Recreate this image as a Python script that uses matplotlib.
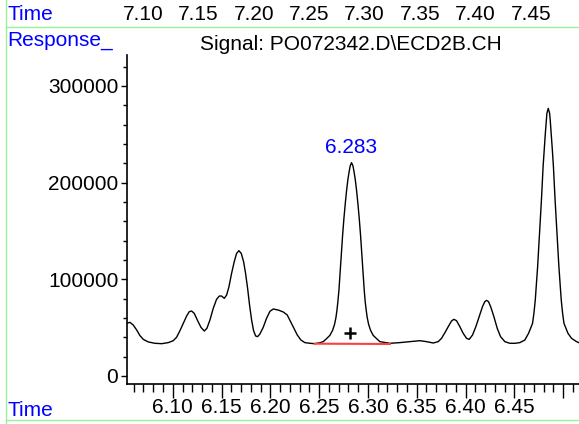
import matplotlib
matplotlib.use('Agg')
import matplotlib.pyplot as plt
from matplotlib.lines import Line2D
from matplotlib.ticker import FixedLocator, MultipleLocator, NullFormatter

plt.rcParams['font.family'] = ['Liberation Sans', 'DejaVu Sans']

# ---- signal (time in min, response) ----
time = [
    # 6.05 - 6.25 group
    6.0527, 6.0561, 6.0595, 6.0630, 6.0664, 6.0698, 6.0749, 6.0817, 6.0886,
    6.0954, 6.1005, 6.1039, 6.1074, 6.1108, 6.1142, 6.1169, 6.1193, 6.1220,
    6.1255, 6.1289, 6.1323, 6.1350, 6.1381, 6.1415, 6.1449, 6.1477, 6.1500,
    6.1528, 6.1552, 6.1576, 6.1603, 6.1630, 6.1654, 6.1678, 6.1702, 6.1726,
    6.1746, 6.1767, 6.1787, 6.1808, 6.1828, 6.1849, 6.1869, 6.1893, 6.1927,
    6.1961, 6.1996, 6.2030, 6.2081, 6.2132, 6.2173, 6.2207, 6.2242, 6.2276,
    6.2313, 6.2354, 6.2406, 6.2457,
    # peak 6.283
    6.2508, 6.2542, 6.2576, 6.2610, 6.2638, 6.2658, 6.2672, 6.2682, 6.2692,
    6.2703, 6.2713, 6.2727, 6.2740, 6.2754, 6.2768, 6.2781, 6.2795, 6.2809,
    6.2819, 6.2832, 6.2846, 6.2856, 6.2870, 6.2884, 6.2897, 6.2911, 6.2925,
    6.2938, 6.2952, 6.2962, 6.2972, 6.2983, 6.2993, 6.3007, 6.3027, 6.3054,
    6.3089, 6.3123, 6.3191,
    # 6.32 - 6.46
    6.3225, 6.3327, 6.3430, 6.3532, 6.3601, 6.3669, 6.3720, 6.3754, 6.3789,
    6.3823, 6.3857, 6.3881, 6.3908, 6.3942, 6.3976, 6.4011, 6.4038, 6.4072,
    6.4106, 6.4140, 6.4174, 6.4198, 6.4215, 6.4236, 6.4260, 6.4291, 6.4325,
    6.4359, 6.4403, 6.4454, 6.4506, 6.4557, 6.4608,
    # peak 6.485
    6.4646, 6.4687, 6.4701, 6.4715, 6.4739, 6.4759, 6.4778, 6.4795, 6.4806,
    6.4818, 6.4828, 6.4834, 6.4848, 6.4862, 6.4868, 6.4878, 6.4890, 6.4901,
    6.4918, 6.4937, 6.4957, 6.4981, 6.4995, 6.5009, 6.5050, 6.5087, 6.5138,
    6.5163]
response = [
    54400, 55500, 52700, 47600, 41700, 37900, 35200, 33800, 33400,
    34500, 36500, 40000, 46900, 54400, 62000, 66500, 67200, 64800,
    57200, 50300, 46500, 49300, 57900, 70000, 79300, 82700, 82700,
    80300, 83700, 92400, 106200, 118200, 126800, 129600, 126800, 118200,
    106200, 90600, 73400, 57900, 46900, 41400, 40700, 43400, 50300,
    59600, 66900, 69300, 68200, 66200, 63100, 56200, 49300, 42400,
    37200, 34500, 33800, 33400,
    34400, 35500, 38600, 42000, 47200, 53400, 60300, 67500, 76800,
    88900, 103400, 125100, 144800, 163000, 178500, 191600, 203400, 212300,
    217500, 220600, 217500, 212300, 203400, 191600, 178500, 163000, 144800,
    125100, 103400, 88900, 76800, 67500, 60300, 53400, 47200, 42000,
    38600, 35500, 34400,
    33800, 34500, 35500, 36500, 35500, 34100, 35500, 38900, 44800,
    51000, 56900, 58600, 57200, 51000, 44100, 38900, 37900, 42400,
    51000, 61300, 71700, 76900, 78200, 76900, 71000, 61300, 49300,
    40700, 35500, 33800, 33800, 34500, 37200,
    44100, 54400, 64800, 78600, 113000, 147500, 182000, 216400, 233700,
    250900, 264700, 271600, 276800, 271600, 264700, 250900, 233700, 216400,
    182000, 147500, 113000, 78600, 64800, 54400, 44100, 38900, 35500,
    34400]

# integrated peak
peak_rt = 6.283
peak_top = 220600
baseline_t = [6.2455, 6.3225]
baseline_v = [33400, 33100]
cross_t, cross_v = 6.282, 44150

x_major = [6.10, 6.15, 6.20, 6.25, 6.30, 6.35, 6.40, 6.45, 6.50]
x_labels = ['6.10', '6.15', '6.20', '6.25', '6.30', '6.35', '6.40', '6.45', '']
y_major = [0, 100000, 200000, 300000]
top_labels = ['7.10', '7.15', '7.20', '7.25', '7.30', '7.35', '7.40', '7.45']

W, H = 579, 424
fs = 15
fig = plt.figure(figsize=(W / 100, H / 100), dpi=100)
ax = fig.add_axes([126.7 / W, 1 - 384 / H, 1 - 126.7 / W, (384 - 55) / H])

ax.plot(time, response, color='black', lw=1.0)
ax.plot(baseline_t, baseline_v, color='#ff4040', lw=1.5)
ax.plot(cross_t, cross_v, marker='+', color='black', ms=9, mew=1.8)
ax.text(peak_rt, peak_top + 6000, f'{peak_rt:.3f}', color='#0000ff',
        fontsize=fs, ha='center', va='bottom')

ax.set_xlim(6.0528, 6.5163)
ax.set_ylim(-8300, 332000)

for s in ['top', 'right']:
    ax.spines[s].set_visible(False)
ax.spines['left'].set_linewidth(1.2)
ax.spines['bottom'].set_linewidth(1.2)

ax.xaxis.set_major_locator(FixedLocator(x_major))
ax.set_xticklabels(x_labels)
ax.xaxis.set_minor_locator(MultipleLocator(0.01))
ax.yaxis.set_major_locator(FixedLocator(y_major))
ax.yaxis.set_minor_locator(MultipleLocator(20000))
ax.yaxis.set_minor_formatter(NullFormatter())
ax.tick_params(axis='x', which='major', length=10, width=1, pad=0, labelsize=fs)
ax.tick_params(axis='x', which='minor', length=6, width=1)
ax.tick_params(axis='y', which='major', length=4, width=1, pad=2, labelsize=fs)
ax.tick_params(axis='y', which='minor', length=3, width=1)

# header / footer texts
blue = '#0000ff'
fig.text(7 / W, 1 - 15 / H, 'Time', color=blue, fontsize=fs, va='center')
fig.text(7 / W, 1 - 40 / H, 'Response_', color=blue, fontsize=fs, va='center')
fig.text(7 / W, 1 - 410 / H, 'Time', color=blue, fontsize=fs, va='center')
fig.text(351 / W, 1 - 44 / H, 'Signal: PO072342.D\\ECD2B.CH', fontsize=fs,
         ha='center', va='center')
for i, lab in enumerate(top_labels):
    fig.text((143 + i * 55.4) / W, 1 - 14 / H, lab, fontsize=fs,
             ha='center', va='center')

green = '#98f098'
fig.add_artist(Line2D([5.5 / W, 5.5 / W], [0, 1], color=green, lw=1))
fig.add_artist(Line2D([5.5 / W, 1], [1 - 27 / H, 1 - 27 / H], color=green, lw=1))
fig.add_artist(Line2D([5.5 / W, 1], [1 - 420 / H, 1 - 420 / H], color=green, lw=1))

plt.savefig('out.png', dpi=100)
